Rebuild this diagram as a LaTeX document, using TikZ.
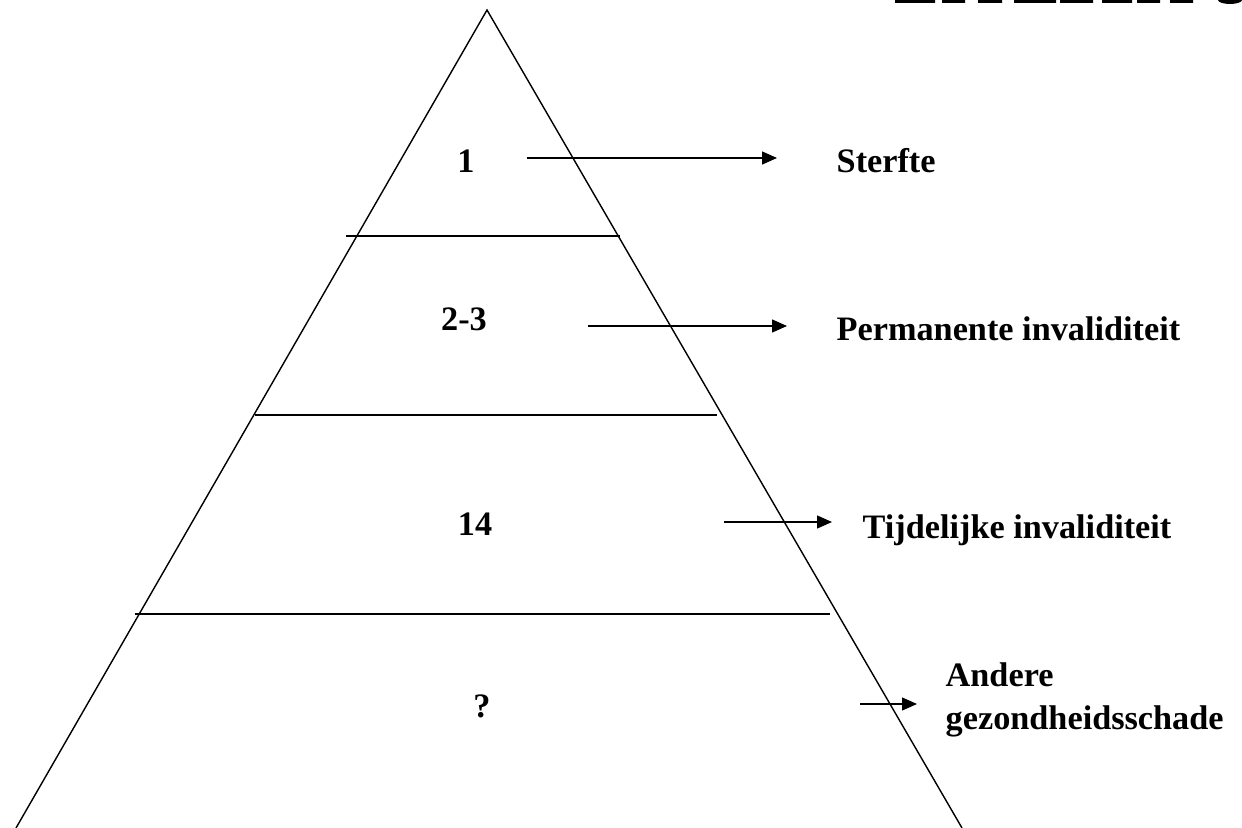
\documentclass[tikz,border=0pt]{standalone}
\usepackage{fontspec}
\setmainfont{Liberation Serif}
\usetikzlibrary{positioning,arrows.meta}

\begin{document}
\begin{tikzpicture}[x=0.02cm,y=-0.02cm,line width=0.8pt,
    font=\fontsize{19.5}{24.5}\selectfont\bfseries,
    lbl/.style={anchor=base,inner sep=0pt},
    cls/.style={anchor=base west,inner sep=0pt,align=left},
    arr/.style={-{Triangle[length=0.3cm,width=0.26cm]}}]
  \useasboundingbox (0,0) rectangle (1242,828);
  \coordinate (top) at (487,10);
  \coordinate (bl) at (16,828);
  \coordinate (br) at (962,828);
  \draw (bl) -- (top) -- (br);
  \draw (346,236) -- (620,236);
  \draw (255,415) -- (717,415);
  \draw (135,614) -- (830,614);
  \node[lbl] (n1) at (466,173) {1};
  \node[lbl] (n2) at (464,330) {2-3};
  \node[lbl] (n3) at (475,535) {14};
  \node[lbl] (n4) at (482,717) {?};
  \node[cls] (c1) at (836,173) {Sterfte};
  \node[cls] (c2) at (836,340) {Permanente invaliditeit};
  \node[cls] (c3) at (862,538) {Tijdelijke invaliditeit};
  \node[cls,anchor=west] (c4) at (945,700) {Andere\\gezondheidsschade};
  \coordinate (a1) at (527,158); \coordinate (e1) at (777,158);
  \coordinate (a2) at (588,326); \coordinate (e2) at (787,326);
  \coordinate (a3) at (724,522); \coordinate (e3) at (832,522);
  \coordinate (a4) at (860,704); \coordinate (e4) at (917,704);
  \draw[arr] (a1) -- (e1);
  \draw[arr] (a2) -- (e2);
  \draw[arr] (a3) -- (e3);
  \draw[arr] (a4) -- (e4);
  \fill (895,0) rectangle (935,3) (942,0) rectangle (965,3) (978,0) rectangle (1002,3)
    (1014,0) rectangle (1056,3) (1060,0) rectangle (1093,3) (1102,0) rectangle (1132,3)
    (1137,0) rectangle (1160,3) (1170,0) rectangle (1193,3);
  \fill (1218,0) arc[start angle=180,end angle=360,x radius=12,y radius=-4] -- cycle;
\end{tikzpicture}
\end{document}
